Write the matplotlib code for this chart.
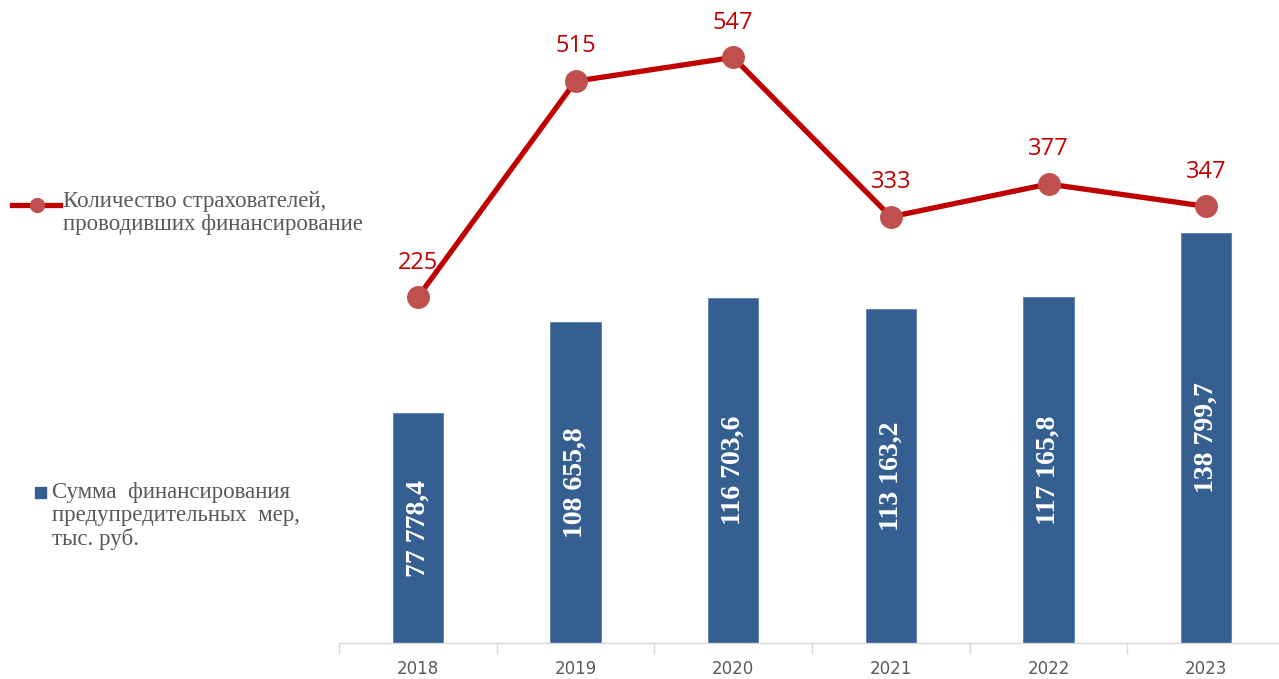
#!/usr/bin/env python3
# Финансирование предупредительных мер: столбцы (сумма) + линия (число страхователей)

import matplotlib
matplotlib.use("Agg")
from matplotlib import pyplot as plt

years = ["2018", "2019", "2020", "2021", "2022", "2023"]
amounts = [77778.4, 108655.8, 116703.6, 113163.2, 117165.8, 138799.7]
insurers = [225, 515, 547, 333, 377, 347]

bar_color = "#365F91"
line_color = "#C00000"
marker_color = "#C0504D"
gray = "#595959"


def fmt_amount(v):
    s = f"{v:,.1f}".replace(",", " ").replace(".", ",")
    return s


W, H = 1279, 679
fig = plt.figure(figsize=(W / 100, H / 100), dpi=100)
# оси: слева 339 px, справа за краем картинки, нуль столбцов на 643 px
ax = fig.add_axes([339 / W, (H - 643) / H, (1285 - 339) / W, 643 / H])
x = list(range(len(years)))

ax.bar(x, amounts, width=0.32, color=bar_color, edgecolor="#5B7FAE",
       linewidth=0.6, zorder=2)
ax.set_xlim(-0.5, len(years) - 0.5)
ax.set_ylim(0, 643 * 338.5)
for xi, v in zip(x, amounts):
    ax.text(xi, v / 2, fmt_amount(v), rotation=90, ha="center", va="center",
            color="white", fontsize=20, fontweight="bold",
            family="Liberation Serif", zorder=3)

for s in ["top", "right", "left"]:
    ax.spines[s].set_visible(False)
ax.spines["bottom"].set_color("#D9D9D9")
ax.spines["bottom"].set_linewidth(1.0)
ax.set_yticks([])
ax.set_xticks(x)
ax.set_xticklabels(years, color=gray, fontsize=12, family="Liberation Sans Narrow")
ax.set_xticks([i - 0.5 for i in range(len(years) + 1)], minor=True)
ax.tick_params(axis="x", which="major", length=0, pad=12)
ax.tick_params(axis="x", which="minor", length=8, color="#D9D9D9", width=1.0)

# линия на второй оси
ax2 = ax.twinx()
ax2.set_ylim(-239, 624)
ax2.plot(x, insurers, color=line_color, linewidth=3.8, marker="o",
         markersize=15.5, markerfacecolor=marker_color,
         markeredgecolor=marker_color, zorder=4)
for xi, v in zip(x, insurers):
    ax2.annotate(str(v), (xi, v), xytext=(0, 25), textcoords="offset points",
                 ha="center", va="center", color=line_color, fontsize=17,
                 family="Open Sans")
ax2.axis("off")

# легенда вручную
fig.add_artist(plt.Line2D([12 / W, 60 / W], [1 - 205 / H, 1 - 205 / H],
                          color=line_color, linewidth=3.8))
fig.add_artist(plt.Line2D([37 / W], [1 - 205 / H], marker="o", markersize=10,
                          color=marker_color))
fig.text(63 / W, 1 - 191 / H, "Количество страхователей,\nпроводивших финансирование",
         ha="left", va="top", color=gray, fontsize=16.5, family="Liberation Serif",
         linespacing=1.12)

fig.patches.append(plt.Rectangle((35 / W, 1 - 498 / H), 11 / W, 11 / H,
                                 transform=fig.transFigure, color=bar_color))
fig.text(52 / W, 1 - 482 / H, "Сумма  финансирования\nпредупредительных  мер,\nтыс. руб.",
         ha="left", va="top", color=gray, fontsize=16.5, family="Liberation Serif",
         linespacing=1.12)

fig.savefig("out.png", dpi=100)
